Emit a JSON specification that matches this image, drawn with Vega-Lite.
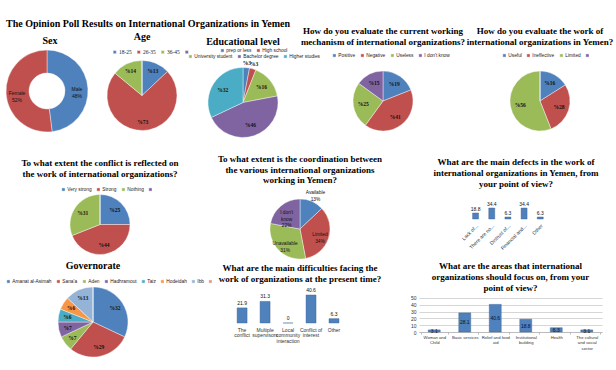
{
 "$schema": "https://vega.github.io/schema/vega-lite/v6.json",
 "background": "white",
 "padding": {"left": 3, "top": 18, "right": 0, "bottom": 0},
 "title": {"text": "The Opinion Poll Results on International Organizations in Yemen", "anchor": "start", "frame": "bounds", "fontSize": 10, "offset": -2, "dx": 3},
 "spacing": -18,
 "bounds": "full",
 "resolve": {"scale": {"color": "independent"}, "legend": {"color": "independent"}},
 "vconcat": [
  {
   "hconcat": [
    {
     "width": 88, "height": 116,
     "title": {"text": "Sex", "fontSize": 10, "offset": -13, "dx": 3},
     "data": {"values": [
      {"g": "Male", "v": 48, "o": 1, "lab": "Male\n48%"},
      {"g": "Female", "v": 52, "o": 2, "lab": "Female\n52%"}
     ]},
     "encoding": {"theta": {"field": "v", "type": "quantitative", "stack": true}, "order": {"field": "o", "type": "quantitative"}},
     "layer": [
      {"mark": {"type": "arc", "radius": 41, "radius2": 18}, "encoding": {"color": {"field": "g", "type": "nominal", "scale": {"domain": ["Male", "Female"], "range": ["#4F81BD", "#C0504D"]}, "legend": null}}},
      {"mark": {"type": "text", "radius": 30, "lineBreak": "\n", "font": "Liberation Sans", "fontWeight": "normal", "fontSize": 5}, "encoding": {"text": {"field": "lab"}}}
     ]
    },
    {
     "width": 102, "height": 125,
     "title": {"text": "Age", "fontSize": 10, "offset": -8.5},
     "data": {"values": [
      {"g": "18-25", "v": 13, "o": 1, "lab": "%13"},
      {"g": "26-35", "v": 73, "o": 2, "lab": "%73"},
      {"g": "36-45", "v": 14, "o": 3, "lab": "%14"},
      {"g": " ", "v": 0, "o": 4, "lab": ""}
     ]},
     "encoding": {"theta": {"field": "v", "type": "quantitative", "stack": true}, "order": {"field": "o", "type": "quantitative"}},
     "layer": [
      {"mark": {"type": "arc", "radius": 35}, "encoding": {"color": {"field": "g", "type": "nominal", "scale": {"domain": ["18-25", "26-35", "36-45", " "], "range": ["#4F81BD", "#C0504D", "#9BBB59", "#8064A2"]}, "legend": {"title": null, "orient": "none", "direction": "horizontal", "legendX": 21, "legendY": 16, "labelFont": "Liberation Serif", "labelFontSize": 5.5}}}},
      {"mark": {"type": "text", "radius": 27}, "encoding": {"text": {"field": "lab"}}}
     ]
    },
    {
     "width": 100, "height": 139,
     "title": {"text": "Educational level", "fontSize": 10, "offset": -14},
     "data": {"values": [
      {"g": "prep or less", "v": 3, "o": 1, "lab": "%3"},
      {"g": "High school", "v": 3, "o": 2, "lab": "%3"},
      {"g": "University student", "v": 16, "o": 3, "lab": "%16"},
      {"g": "Bachelor degree", "v": 46, "o": 4, "lab": "%46"},
      {"g": "Higher studies", "v": 32, "o": 5, "lab": "%32"}
     ]},
     "encoding": {"theta": {"field": "v", "type": "quantitative", "stack": true}, "order": {"field": "o", "type": "quantitative"}},
     "layer": [
      {"mark": {"type": "arc", "radius": 35, "opacity": 0}, "encoding": {"color": {"field": "g", "type": "nominal", "scale": {"domain": ["prep or less", "High school"], "range": ["#4F81BD", "#C0504D"]}, "legend": {"title": null, "orient": "none", "direction": "horizontal", "legendX": 27, "legendY": 15, "symbolOpacity": 1}}}},
      {"mark": {"type": "arc", "radius": 35}, "encoding": {"color": {"field": "g", "type": "nominal", "scale": {"domain": ["prep or less", "High school", "University student", "Bachelor degree", "Higher studies"], "range": ["#4F81BD", "#C0504D", "#9BBB59", "#8064A2", "#4BACC6"]}, "legend": {"title": null, "orient": "none", "direction": "horizontal", "legendX": -5, "legendY": 21, "values": ["University student", "Bachelor degree", "Higher studies"]}}}},
      {"mark": {"type": "text", "radius": 24}, "encoding": {"text": {"field": "lab"}, "opacity": {"condition": {"test": "datum.v < 10", "value": 0}, "value": 1}}},
      {"mark": {"type": "text", "radius": 40}, "encoding": {"text": {"field": "lab"}, "opacity": {"condition": {"test": "datum.v >= 10", "value": 0}, "value": 1}}}
     ],
     "resolve": {"scale": {"color": "independent"}, "legend": {"color": "independent"}}
    },
    {
     "width": 180, "height": 136,
     "title": {"text": ["How do you evaluate the current working", "mechanism of international organizations?"], "offset": -13.5},
     "data": {"values": [
      {"g": "Positive", "v": 19, "o": 1, "lab": "%19"},
      {"g": "Negative", "v": 41, "o": 2, "lab": "%41"},
      {"g": "Useless", "v": 25, "o": 3, "lab": "%25"},
      {"g": "I don't know", "v": 15, "o": 4, "lab": "%15"}
     ]},
     "encoding": {"theta": {"field": "v", "type": "quantitative", "stack": true}, "order": {"field": "o", "type": "quantitative"}},
     "layer": [
      {"mark": {"type": "arc", "radius": 30}, "encoding": {"color": {"field": "g", "type": "nominal", "scale": {"domain": ["Positive", "Negative", "Useless", "I don't know"], "range": ["#4F81BD", "#C0504D", "#9BBB59", "#8064A2"]}, "legend": {"title": null, "orient": "none", "direction": "horizontal", "legendX": 39, "legendY": 20}}}},
      {"mark": {"type": "text", "radius": 20}, "encoding": {"text": {"field": "lab"}}}
     ]
    },
    {
     "width": 134, "height": 136,
     "title": {"text": ["How do you evaluate the work of", "international organizations in Yemen?"], "offset": -13.5},
     "data": {"values": [
      {"g": "Useful", "v": 16, "o": 1, "lab": "%16"},
      {"g": "Ineffective", "v": 28, "o": 2, "lab": "%28"},
      {"g": "Limited", "v": 56, "o": 3, "lab": "%56"},
      {"g": " ", "v": 0, "o": 4, "lab": ""}
     ]},
     "encoding": {"theta": {"field": "v", "type": "quantitative", "stack": true}, "order": {"field": "o", "type": "quantitative"}},
     "layer": [
      {"mark": {"type": "arc", "radius": 30}, "encoding": {"color": {"field": "g", "type": "nominal", "scale": {"domain": ["Useful", "Ineffective", "Limited", " "], "range": ["#4F81BD", "#C0504D", "#9BBB59", "#8064A2"]}, "legend": {"title": null, "orient": "none", "direction": "horizontal", "legendX": 29, "legendY": 20}}}},
      {"mark": {"type": "text", "radius": 20}, "encoding": {"text": {"field": "lab"}}}
     ]
    }
   ],
   "spacing": 0,
   "bounds": "flush",
   "resolve": {"scale": {"color": "independent"}, "legend": {"color": "independent"}}
  },
  {
   "concat": [
    {
     "width": 194, "height": 105,
     "title": {"text": ["To what  extent  the conflict is  reflected on", "the work of international organizations?"], "offset": -7},
     "data": {"values": [
      {"g": "Very strong", "v": 25, "o": 1, "lab": "%25"},
      {"g": "Strong", "v": 44, "o": 2, "lab": "%44"},
      {"g": "Nothing", "v": 31, "o": 3, "lab": "%31"},
      {"g": " ", "v": 0, "o": 4, "lab": ""}
     ]},
     "encoding": {"theta": {"field": "v", "type": "quantitative", "stack": true}, "order": {"field": "o", "type": "quantitative"}},
     "layer": [
      {"mark": {"type": "arc", "radius": 30}, "encoding": {"color": {"field": "g", "type": "nominal", "scale": {"domain": ["Very strong", "Strong", "Nothing", " "], "range": ["#4F81BD", "#C0504D", "#9BBB59", "#8064A2"]}, "legend": {"title": null, "orient": "none", "direction": "horizontal", "legendX": 58, "legendY": 15}}}},
      {"mark": {"type": "text", "radius": 21}, "encoding": {"text": {"field": "lab"}}}
     ]
    },
    {
     "width": 206, "height": 114,
     "title": {"text": ["To what extent is the coordination between", "the various international organizations", "working in Yemen?"], "offset": -13, "lineHeight": 10.5},
     "data": {"values": [
      {"g": "Available", "v": 13, "o": 1, "lab": "Available\n13%"},
      {"g": "Limited", "v": 34, "o": 2, "lab": "Limited\n34%"},
      {"g": "Unavailable", "v": 31, "o": 3, "lab": "Unavailable\n31%"},
      {"g": "I don't know", "v": 22, "o": 4, "lab": "I don't\nknow\n22%"}
     ]},
     "encoding": {"theta": {"field": "v", "type": "quantitative", "stack": true}, "order": {"field": "o", "type": "quantitative"}},
     "layer": [
      {"mark": {"type": "arc", "radius": 30}, "encoding": {"color": {"field": "g", "type": "nominal", "scale": {"domain": ["Available", "Limited", "Unavailable", "I don't know"], "range": ["#4F81BD", "#C0504D", "#9BBB59", "#8064A2"]}, "legend": null}}},
      {"mark": {"type": "text", "radius": 21, "lineBreak": "\n", "font": "Liberation Sans", "fontWeight": "normal", "fontSize": 4.8}, "encoding": {"text": {"field": "lab"}, "opacity": {"condition": {"test": "datum.v < 15", "value": 0}, "value": 1}}},
      {"mark": {"type": "text", "radius": 39, "lineBreak": "\n", "font": "Liberation Sans", "fontWeight": "normal", "fontSize": 4.8}, "encoding": {"text": {"field": "lab"}, "opacity": {"condition": {"test": "datum.v >= 15", "value": 0}, "value": 1}}}
     ]
    },
    {
     "width": 194, "height": 47,
     "title": {"text": ["What are the main defects in the work of", "international organizations in Yemen, from", "your point of view?"], "offset": -17},
     "data": {"values": [
      {"c": "Lack of...", "v": 18.8},
      {"c": "There are no...", "v": 34.4},
      {"c": "Distrust of...", "v": 6.3},
      {"c": "Financial and...", "v": 34.4},
      {"c": "Other", "v": 6.3}
     ]},
     "encoding": {
      "x": {"field": "c", "type": "nominal", "scale": {"domain": [" ", "  ", "   ", "Lack of...", "There are no...", "Distrust of...", "Financial and...", "Other", "    ", "     ", "      ", "       "], "paddingInner": 0, "paddingOuter": 0}, "axis": {"title": null, "labelAngle": -45, "domain": false, "ticks": false, "labelFontSize": 5, "labelPadding": 4, "labelOverlap": false}},
      "y": {"field": "v", "type": "quantitative", "scale": {"domain": [0, 147]}, "axis": null}
     },
     "layer": [
      {"mark": {"type": "bar", "width": 6, "color": "#4F81BD", "stroke": "#385D8A", "strokeWidth": 0.4}},
      {"mark": {"type": "text", "baseline": "bottom", "dy": -1, "font": "Liberation Sans", "fontWeight": "normal", "fontSize": 5}, "encoding": {"text": {"field": "v"}}}
     ]
    },
    {
     "width": 180, "height": 72,
     "title": {"text": "Governorate", "fontSize": 10, "offset": 8},
     "data": {"values": [
      {"g": "Amanat al-Asimah", "v": 32, "o": 1, "lab": "%32"},
      {"g": "Sana'a", "v": 29, "o": 2, "lab": "%29"},
      {"g": "Aden", "v": 7, "o": 3, "lab": "%7"},
      {"g": "Hadhramout", "v": 7, "o": 4, "lab": "%7"},
      {"g": "Taiz", "v": 6, "o": 5, "lab": "%6"},
      {"g": "Hodeidah", "v": 6, "o": 6, "lab": "%6"},
      {"g": "Ibb", "v": 13, "o": 7, "lab": "%13"},
      {"g": " ", "v": 0, "o": 8, "lab": ""}
     ]},
     "encoding": {"theta": {"field": "v", "type": "quantitative", "stack": true}, "order": {"field": "o", "type": "quantitative"}},
     "layer": [
      {"mark": {"type": "arc", "radius": 35}, "encoding": {"color": {"field": "g", "type": "nominal", "scale": {"domain": ["Amanat al-Asimah", "Sana'a", "Aden", "Hadhramout", "Taiz", "Hodeidah", "Ibb", " "], "range": ["#4F81BD", "#C0504D", "#9BBB59", "#8064A2", "#4BACC6", "#F79646", "#95B3D7", "#D99694"]}, "legend": {"title": null, "orient": "none", "direction": "horizontal", "legendX": 3, "legendY": -7}}}},
      {"mark": {"type": "text", "radius": 26}, "encoding": {"text": {"field": "lab"}}}
     ]
    },
    {
     "width": 222, "height": 37,
     "title": {"text": ["What are the main difficulties facing the", "work of organizations at the present time?"], "offset": 2, "dx": -8},
     "data": {"values": [
      {"c": "The conflict", "v": 21.9},
      {"c": "Multiple supervisors", "v": 31.3},
      {"c": "Local community interaction", "v": 0},
      {"c": "Conflict of interest", "v": 40.6},
      {"c": "Other", "v": 6.3}
     ]},
     "encoding": {
      "x": {"field": "c", "type": "nominal", "scale": {"domain": [" ", "The conflict", "Multiple supervisors", "Local community interaction", "Conflict of interest", "Other", "  ", "   ", "    "], "paddingInner": 0, "paddingOuter": 0.33, "align": 0.7}, "axis": {"title": null, "labelAngle": 0, "domain": false, "ticks": false, "labelFontSize": 5, "labelPadding": 4, "labelLineHeight": 5.5, "labelOverlap": false, "labelExpr": "datum.value == 'The conflict' ? ['The','conflict'] : datum.value == 'Multiple supervisors' ? ['Multiple','supervisors'] : datum.value == 'Local community interaction' ? ['Local','community','interaction'] : datum.value == 'Conflict of interest' ? ['Conflict of','interest'] : datum.value"}},
      "y": {"field": "v", "type": "quantitative", "scale": {"domain": [0, 53.6]}, "axis": null}
     },
     "layer": [
      {"mark": {"type": "bar", "width": 10, "color": "#4F81BD", "stroke": "#385D8A", "strokeWidth": 0.4}},
      {"mark": {"type": "text", "baseline": "bottom", "dy": -2, "font": "Liberation Sans", "fontWeight": "normal", "fontSize": 5}, "encoding": {"text": {"field": "v"}}}
     ]
    },
    {
     "width": 183, "height": 46,
     "title": {"text": ["What are the areas that international", "organizations should focus on, from your", "point of view?"], "offset": -7},
     "data": {"values": [
      {"c": "Woman and Child", "v": 3.1},
      {"c": "Basic services", "v": 28.1},
      {"c": "Relief and food aid", "v": 40.6},
      {"c": "Institutional building", "v": 18.8},
      {"c": "Health", "v": 6.3},
      {"c": "The cultural and social sector", "v": 3.1}
     ]},
     "encoding": {
      "x": {"field": "c", "type": "nominal", "sort": null, "axis": {"title": null, "labelAngle": 0, "domainColor": "#bbb", "ticks": true, "tickColor": "#bbb", "tickSize": 2, "tickBand": "extent", "labelFontSize": 4.2, "labelPadding": 1, "labelLineHeight": 5.5, "labelOverlap": false, "labelExpr": "datum.value == 'Woman and Child' ? ['Woman and','Child'] : datum.value == 'Relief and food aid' ? ['Relief and food','aid'] : datum.value == 'Institutional building' ? ['Institutional','building'] : datum.value == 'The cultural and social sector' ? ['The cultural','and social','sector'] : datum.value"}}
     },
     "layer": [
      {"mark": {"type": "bar", "width": 12, "color": "#4F81BD", "stroke": "#385D8A", "strokeWidth": 0.4}, "encoding": {"y": {"field": "v", "type": "quantitative", "scale": {"domain": [0, 67.6]}, "axis": {"title": null, "values": [0, 10, 20, 30, 40, 50], "domain": false, "ticks": false, "labelFontSize": 5, "labelPadding": 3, "gridColor": "#bbb", "gridWidth": 0.6}}}},
      {"mark": {"type": "text", "baseline": "middle", "font": "Liberation Sans", "fontWeight": "normal", "fontSize": 5}, "encoding": {"y": {"field": "v", "type": "quantitative", "scale": {"domain": [0, 135.2]}, "axis": null}, "text": {"field": "v"}}}
     ],
     "resolve": {"scale": {"y": "independent"}}
    }
   ],
   "columns": 3,
   "spacing": 0,
   "bounds": "flush",
   "align": "each",
   "resolve": {"scale": {"color": "independent"}, "legend": {"color": "independent"}}
  }
 ],
 "config": {
  "view": {"stroke": null},
  "font": "Liberation Sans",
  "title": {"font": "Liberation Serif", "fontWeight": "bold", "color": "#000", "anchor": "middle", "frame": "group", "baseline": "alphabetic", "lineHeight": 11, "fontSize": 9},
  "arc": {"stroke": "#fff", "strokeWidth": 0.4},
  "text": {"font": "Liberation Serif", "fontWeight": "bold", "fontSize": 5.5, "color": "#111"},
  "legend": {"symbolType": "square", "symbolSize": 10, "labelFontSize": 4.8, "labelFont": "Liberation Sans", "labelColor": "#222", "columnPadding": 4, "labelOffset": 1.5, "padding": 0, "symbolStrokeWidth": 0},
  "axis": {"labelFont": "Liberation Sans", "labelColor": "#333"}
 }
}
